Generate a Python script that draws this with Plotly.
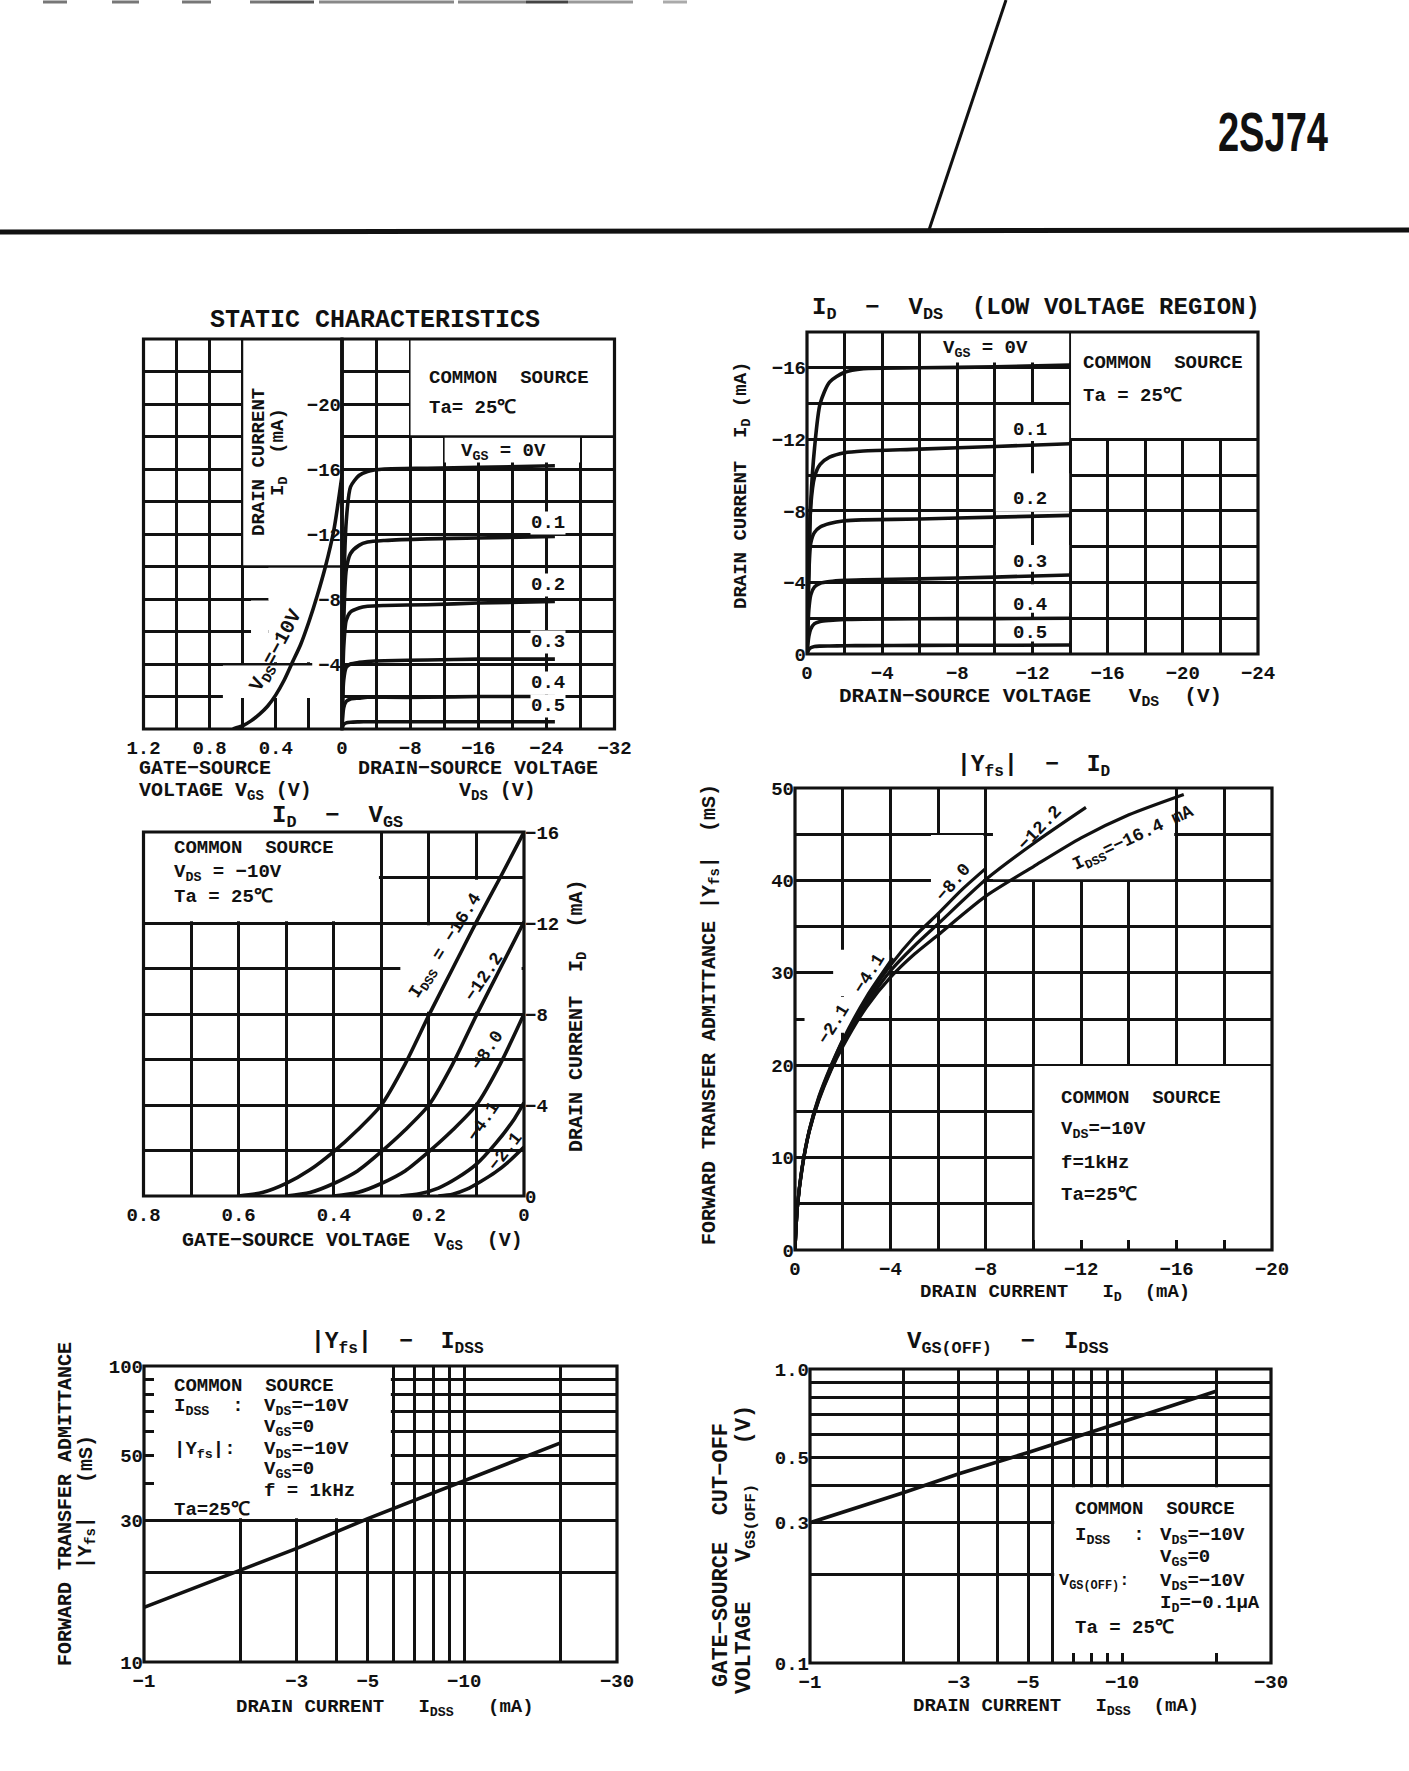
import math
import plotly.graph_objects as go

W, H = 1409, 1771
INK = "#111111"
FONT = "Liberation Mono, Courier New, DejaVu Sans Mono, monospace"

# ================= DATA =================
# --- STATIC CHARACTERISTICS: transfer curve (VDS = -10 V) ---
static_vgs = [0.66, 0.6, 0.55, 0.5, 0.45, 0.4, 0.35, 0.3, 0.25, 0.2, 0.15, 0.1, 0.05, 0.0]
static_id_transfer = [0, -0.2, -0.5, -0.9, -1.4, -2.1, -3.0, -4.1, -5.2, -6.6, -8.2, -10.0, -12.2, -15.6]
# --- STATIC CHARACTERISTICS: output curves ---
static_vds = [0, -0.2, -0.5, -1, -2, -3, -5, -10, -16, -25]
static_id_vgs0 = [0, -8.5, -12.8, -14.9, -15.6, -15.85, -16.0, -16.05, -16.1, -16.2]
static_id_vgs01 = [0, -6.5, -9.8, -10.8, -11.3, -11.5, -11.6, -11.7, -11.75, -11.85]
static_id_vgs02 = [0, -5.0, -6.7, -7.2, -7.45, -7.55, -7.6, -7.65, -7.75, -7.85]
static_id_vgs03 = [0, -3.0, -3.8, -4.0, -4.1, -4.15, -4.2, -4.25, -4.3, -4.3]
static_id_vgs04 = [0, -1.3, -1.7, -1.85, -1.9, -1.95, -1.95, -1.95, -2.0, -2.0]
static_id_vgs05 = [0, -0.28, -0.38, -0.42, -0.44, -0.45, -0.45, -0.45, -0.45, -0.45]
static_vgs_labels = ["0.1", "0.2", "0.3", "0.4", "0.5"]

# --- ID - VDS (LOW VOLTAGE REGION) ---
low_vds = [0, -0.1, -0.2, -0.4, -0.7, -1.2, -2, -3, -6, -10, -14]
low_id_vgs0 = [0, -5.0, -8.5, -11.5, -14.0, -15.2, -15.75, -15.95, -16.0, -16.05, -16.15]
low_id_vgs01 = [0, -5.5, -8.3, -9.9, -10.6, -11.0, -11.25, -11.35, -11.45, -11.6, -11.75]
low_id_vgs02 = [0, -4.5, -6.2, -6.8, -7.1, -7.3, -7.45, -7.5, -7.55, -7.65, -7.75]
low_id_vgs03 = [0, -2.5, -3.3, -3.75, -3.95, -4.05, -4.12, -4.15, -4.2, -4.3, -4.42]
low_id_vgs04 = [0, -1.0, -1.4, -1.7, -1.82, -1.88, -1.93, -1.95, -1.97, -1.98, -2.0]
low_id_vgs05 = [0, -0.25, -0.35, -0.42, -0.44, -0.45, -0.46, -0.47, -0.48, -0.49, -0.5]

# --- ID - VGS (VDS = -10 V) per IDSS ---
idvgs_vgs_164 = [0.6, 0.55, 0.5, 0.45, 0.4, 0.35, 0.3, 0.25, 0.2, 0.15, 0.1, 0.05, 0.0]
idvgs_id_164 = [0, -0.15, -0.55, -1.15, -1.95, -2.9, -4.0, -5.8, -7.95, -10.0, -12.05, -14.0, -16.0]
idvgs_vgs_122 = [0.5, 0.45, 0.4, 0.35, 0.3, 0.25, 0.2, 0.15, 0.1, 0.05, 0.0]
idvgs_id_122 = [0, -0.15, -0.55, -1.1, -1.95, -2.9, -4.0, -5.8, -7.95, -10.0, -12.05]
idvgs_vgs_80 = [0.4, 0.35, 0.3, 0.25, 0.2, 0.15, 0.1, 0.05, 0.0]
idvgs_id_80 = [0, -0.15, -0.55, -1.1, -1.95, -2.9, -4.0, -5.8, -8.0]
idvgs_vgs_41 = [0.26, 0.22, 0.18, 0.14, 0.1, 0.06, 0.02, 0.0]
idvgs_id_41 = [0, -0.1, -0.35, -0.8, -1.4, -2.3, -3.4, -4.1]
idvgs_vgs_21 = [0.18, 0.15, 0.12, 0.09, 0.06, 0.03, 0.0]
idvgs_id_21 = [0, -0.08, -0.3, -0.65, -1.05, -1.55, -2.15]

# --- |Yfs| - ID per IDSS ---
yfsid_id_164 = [0, -0.1, -0.3, -0.6, -1, -1.5, -2, -3, -4, -5, -6, -8, -10, -12, -14, -16.3]
yfsid_y_164 = [0, 4.6, 8.8, 12.8, 16.2, 19.4, 22.0, 26.3, 29.5, 32.0, 34.1, 38.3, 41.5, 44.6, 47.1, 49.3]
yfsid_id_122 = [0, -0.1, -0.3, -0.6, -1, -1.5, -2, -3, -4, -5, -6, -8, -10, -12.2]
yfsid_y_122 = [0, 4.6, 8.9, 12.9, 16.3, 19.5, 22.2, 26.6, 30.2, 32.9, 35.3, 40.1, 44.0, 47.9]
yfsid_id_80 = [0, -0.1, -0.3, -0.6, -1, -1.5, -2, -3, -4, -5, -6, -7, -8.0]
yfsid_y_80 = [0, 4.6, 8.9, 12.9, 16.4, 19.6, 22.4, 27.0, 30.8, 33.9, 36.4, 39.0, 41.3]
yfsid_id_41 = [0, -0.1, -0.3, -0.6, -1, -1.5, -2, -3, -4.1]
yfsid_y_41 = [0, 4.6, 9.0, 13.0, 16.5, 19.8, 22.7, 27.4, 31.6]
yfsid_id_21 = [0, -0.1, -0.3, -0.6, -1, -1.5, -2.1]
yfsid_y_21 = [0, 4.6, 9.0, 13.0, 16.6, 19.9, 23.3]

# --- |Yfs| - IDSS ---
yfsidss_idss = [1, 2, 3, 5, 10, 20]
yfsidss_yfs = [15.3, 20.5, 24.2, 30.5, 41.0, 55.0]

# --- VGS(OFF) - IDSS ---
voff_idss = [1, 2, 3, 5, 10, 20]
voff_v = [0.30, 0.38, 0.44, 0.52, 0.66, 0.84]

# ================= HELPERS =================
def fx(px):
    return px / W


def fy(py):
    return 1 - py / H


def fnt(size, weight="bold"):
    return dict(family=FONT, size=size, color=INK, weight=weight)


def ax(**kw):
    d = dict(showgrid=True, gridcolor=INK, gridwidth=2.5, zeroline=False, showline=False,
             ticks="", tickfont=fnt(19), fixedrange=True, layer="above traces",
             automargin=False)
    d.update(kw)
    return d


def labels(vals, shown, fmt):
    return [fmt(v) if v in shown else "" for v in vals]


def neg(v):
    return "0" if v == 0 else "\u2212" + ("%g" % abs(v))


fig = go.Figure()


def curve(x, y, xa, ya, width=3.6, shape="spline"):
    ln = dict(color=INK, width=width, shape=shape)
    if shape == "spline":
        ln["smoothing"] = 0.7
    fig.add_trace(go.Scatter(x=x, y=y, xaxis=xa, yaxis=ya, mode="lines", line=ln,
                             showlegend=False, hoverinfo="skip"))


shapes = []
annotations = []


def frame(x0, x1, y0, y1, w=3.2):
    shapes.append(dict(type="rect", xref="paper", yref="paper", x0=fx(x0), x1=fx(x1),
                       y0=fy(y1), y1=fy(y0), line=dict(color=INK, width=w), layer="above"))


def mask(xr, yr, x0, x1, y0, y1):
    shapes.append(dict(type="rect", xref=xr, yref=yr, x0=x0, x1=x1, y0=y0, y1=y1,
                       fillcolor="white", line=dict(width=0), layer="between"))


def ann(text, x, y, size=19, xanchor="center", angle=0, bg=None, pad=1, weight="bold"):
    a = dict(text=text, x=fx(x), y=fy(y), xref="paper", yref="paper", showarrow=False,
             xanchor=xanchor, yanchor="middle", textangle=angle, font=fnt(size, weight),
             borderpad=pad)
    if bg:
        a["bgcolor"] = bg
    annotations.append(a)


XSTAND = 5

# ================= CHART 1: STATIC CHARACTERISTICS =================
C1L, C1M, C1R, C1T, C1B = 143.5, 342, 614.5, 339, 729
curve(static_vgs, static_id_transfer, "x", "y")
for ids in [static_id_vgs0, static_id_vgs01, static_id_vgs02, static_id_vgs03,
            static_id_vgs04, static_id_vgs05]:
    curve(static_vds, ids, "x2", "y")

c1_xl = [1.2, 1.0, 0.8, 0.6, 0.4, 0.2, 0.0]
c1_xr = [0, -4, -8, -12, -16, -20, -24, -28, -32]
c1_y = [0, -2, -4, -6, -8, -10, -12, -14, -16, -18, -20, -22, -24]
layout_axes = {}
layout_axes["xaxis"] = ax(domain=[fx(C1L), fx(C1M)], range=[1.2, 0], anchor="y", ticklabelstandoff=XSTAND,
                          tickvals=c1_xl, ticktext=labels(c1_xl, [1.2, 0.8, 0.4, 0.0], lambda v: "%g" % v))
layout_axes["xaxis2"] = ax(domain=[fx(C1M), fx(C1R)], range=[0, -32], anchor="y", ticklabelstandoff=XSTAND,
                           tickvals=c1_xr, ticktext=labels(c1_xr, [-8, -16, -24, -32], neg))
layout_axes["yaxis"] = ax(domain=[fy(C1B), fy(C1T)], range=[0, -24], anchor="x2", side="left",
                          tickvals=c1_y, ticktext=labels(c1_y, [-4, -8, -12, -16, -20], neg))
frame(C1L, C1M, C1T, C1B)
frame(C1M, C1R, C1T, C1B)
shapes.append(dict(type="line", xref="paper", yref="paper", x0=fx(C1M), x1=fx(C1M),
                   y0=fy(C1B), y1=fy(C1T), line=dict(color=INK, width=3.5), layer="above"))
mask("x", "y", 0.597, -0.01, -10.08, -24.5)
mask("x", "y", 0.445, -0.01, -4.1, -9.92)
mask("x", "y", 0.55, 0.445, -4.1, -7.9)
mask("x", "y", 0.72, -0.01, -1.9, -3.9)
mask("x", "y", 0.18, -0.01, -3.85, -4.15)
mask("x2", "y", -8.05, -32.5, -18.08, -24.5)
mask("x2", "y", -12.05, -27.95, -16.4, -17.92)

ann("STATIC CHARACTERISTICS", 375, 321, size=25)
ann("COMMON  SOURCE", 427, 378, xanchor="left")
ann("Ta= 25\u2103", 427, 408, xanchor="left")
ann("V<sub>GS</sub> = 0V", 503, 452)
for lab, yy in zip(static_vgs_labels, [523, 585, 642, 683, 706]):
    ann(lab, 548, yy, bg="white", pad=0)
ann("V<sub>DS</sub>=\u221210V", 276, 651, size=20, angle=-62)
ann("DRAIN CURRENT", 259, 462, size=19, angle=-90)
ann("I<sub>D</sub>  (mA)", 279, 452, size=19, angle=-90)
ann("GATE\u2212SOURCE", 137, 768, size=20, xanchor="left")
ann("VOLTAGE V<sub>GS</sub> (V)", 137, 791, size=20, xanchor="left")
ann("DRAIN\u2212SOURCE VOLTAGE", 478, 768, size=20)
ann("V<sub>DS</sub> (V)", 497, 791, size=20)

# ================= CHART 2: ID - VDS LOW VOLTAGE =================
C2L, C2R, C2T, C2B = 807, 1258, 332, 654
for ids in [low_id_vgs0, low_id_vgs01, low_id_vgs02, low_id_vgs03, low_id_vgs04, low_id_vgs05]:
    curve(low_vds, ids, "x3", "y2")
c2_x = list(range(0, -26, -2))
c2_y = list(range(0, -20, -2))
layout_axes["xaxis3"] = ax(domain=[fx(C2L), fx(C2R)], range=[0, -24], anchor="y2", ticklabelstandoff=XSTAND,
                           tickvals=c2_x, ticktext=labels(c2_x, [0, -4, -8, -12, -16, -20, -24], neg))
layout_axes["yaxis2"] = ax(domain=[fy(C2B), fy(C2T)], range=[0, -18], anchor="x3",
                           tickvals=c2_y, ticktext=labels(c2_y, [0, -4, -8, -12, -16], neg))
frame(C2L, C2R, C2T, C2B)
mask("x3", "y2", -14.05, -24.5, -12.08, -18.5)
mask("x3", "y2", -6.1, -13.95, -16.3, -18.5)
mask("x3", "y2", -10.05, -13.95, -11.9, -13.92)
mask("x3", "y2", -10.05, -13.95, -7.95, -10.1)
mask("x3", "y2", -10.05, -13.95, -4.6, -6.1)
mask("x3", "y2", -10.05, -13.95, -2.3, -3.9)
mask("x3", "y2", -10.05, -13.95, -0.7, -1.9)

ann("I<sub>D</sub>  \u2212  V<sub>DS</sub>  (LOW VOLTAGE REGION)", 1036, 309, size=24)
ann("COMMON  SOURCE", 1081, 363, xanchor="left")
ann("Ta = 25\u2103", 1081, 396, xanchor="left")
ann("V<sub>GS</sub> = 0V", 985, 349)
for lab, yy in zip(static_vgs_labels, [430, 499, 562, 605, 633]):
    ann(lab, 1030, yy)
ann("DRAIN CURRENT  I<sub>D</sub> (mA)", 742, 485, size=19, angle=-90)
ann("DRAIN\u2212SOURCE VOLTAGE   V<sub>DS</sub>  (V)", 1030, 697, size=21)

# ================= CHART 3: ID - VGS =================
C3L, C3R, C3T, C3B = 143.5, 524, 832, 1196
for xs, ys in [(idvgs_vgs_164, idvgs_id_164), (idvgs_vgs_122, idvgs_id_122),
               (idvgs_vgs_80, idvgs_id_80), (idvgs_vgs_41, idvgs_id_41),
               (idvgs_vgs_21, idvgs_id_21)]:
    curve(xs, ys, "x4", "y3")
c3_x = [0.8, 0.7, 0.6, 0.5, 0.4, 0.3, 0.2, 0.1, 0.0]
c3_y = list(range(0, -18, -2))
layout_axes["xaxis4"] = ax(domain=[fx(C3L), fx(C3R)], range=[0.8, 0], anchor="y3", ticklabelstandoff=XSTAND,
                           tickvals=c3_x, ticktext=labels(c3_x, [0.8, 0.6, 0.4, 0.2, 0.0], lambda v: "%g" % v))
layout_axes["yaxis3"] = ax(domain=[fy(C3B), fy(C3T)], range=[0, -16], anchor="x4", side="right",
                           tickvals=c3_y, ticktext=labels(c3_y, [0, -4, -8, -12, -16], neg))
frame(C3L, C3R, C3T, C3B)
mask("x4", "y3", 0.805, 0.305, -12.08, -16.5)
mask("x4", "y3", 0.26, 0.005, -8.1, -11.9)
mask("x4", "y3", 0.195, 0.005, -12.1, -13.9)
mask("x4", "y3", 0.15, 0.005, -4.1, -5.9)
mask("x4", "y3", 0.15, 0.005, -6.1, -7.9)

ann("I<sub>D</sub>  \u2212  V<sub>GS</sub>", 337, 817, size=24)
ann("COMMON  SOURCE", 172, 848, xanchor="left")
ann("V<sub>DS</sub> = \u221210V", 172, 873, xanchor="left")
ann("Ta = 25\u2103", 172, 897, xanchor="left")
ann("I<sub>DSS</sub> = \u221216.4", 446, 946, size=18, angle=-58)
ann("\u221212.2", 484, 977, size=18, angle=-56)
ann("\u22128.0", 487, 1051, size=18, angle=-56)
ann("\u22124.1", 483, 1122, size=18, angle=-56)
ann("\u22122.1", 505, 1152, size=18, angle=-52)
ann("DRAIN CURRENT  I<sub>D</sub>  (mA)", 577, 1016, size=20, angle=-90)
ann("GATE\u2212SOURCE VOLTAGE  V<sub>GS</sub>  (V)", 352, 1241, size=20)

# ================= CHART 4: |Yfs| - ID =================
C4L, C4R, C4T, C4B = 795, 1272, 788, 1250
for xs, ys in [(yfsid_id_164, yfsid_y_164), (yfsid_id_122, yfsid_y_122),
               (yfsid_id_80, yfsid_y_80), (yfsid_id_41, yfsid_y_41), (yfsid_id_21, yfsid_y_21)]:
    curve(xs, ys, "x5", "y4", width=3.2)
c4_x = list(range(0, -22, -2))
c4_y = list(range(0, 55, 5))
layout_axes["xaxis5"] = ax(domain=[fx(C4L), fx(C4R)], range=[0, -20], anchor="y4", ticklabelstandoff=XSTAND,
                           tickvals=c4_x, ticktext=labels(c4_x, [0, -4, -8, -12, -16, -20], neg),
                           ticks="inside", ticklen=10, tickwidth=2.5, tickcolor=INK)
layout_axes["yaxis4"] = ax(domain=[fy(C4B), fy(C4T)], range=[0, 50], anchor="x5",
                           tickvals=c4_y, ticktext=labels(c4_y, [0, 10, 20, 30, 40, 50], lambda v: "%g" % v))
frame(C4L, C4R, C4T, C4B)
mask("x5", "y4", -10.05, -20.5, -1, 19.92)
mask("x5", "y4", -8.3, -15.9, 40.12, 51)
mask("x5", "y4", -5.7, -7.9, 36.5, 44.9)
mask("x5", "y4", -1.6, -3.95, 27.5, 32.5)
mask("x5", "y4", -0.4, -2.5, 23.5, 27.4)

ann("|Y<sub>fs</sub>|  \u2212  I<sub>D</sub>", 1034, 766, size=23)
ann("COMMON  SOURCE", 1059, 1098, xanchor="left")
ann("V<sub>DS</sub>=\u221210V", 1059, 1130, xanchor="left")
ann("f=1kHz", 1059, 1163, xanchor="left")
ann("Ta=25\u2103", 1059, 1195, xanchor="left")
ann("\u22122.1", 834, 1024, size=18, angle=-58)
ann("\u22124.1", 869, 974, size=18, angle=-58)
ann("\u22128.0", 953, 883, size=18, angle=-50)
ann("\u221212.2", 1040, 828, size=18, angle=-46)
ann("I<sub>DSS</sub>=\u221216.4 mA", 1133, 839, size=18, angle=-25)
ann("FORWARD TRANSFER ADMITTANCE |Y<sub>fs</sub>|  (mS)", 710, 1014, size=20, angle=-90)
ann("DRAIN CURRENT   I<sub>D</sub>  (mA)", 1055, 1293, size=19)

# ================= CHART 5: |Yfs| - IDSS =================
C5L, C5R, C5T, C5B = 144, 617, 1366, 1662
curve(yfsidss_idss, yfsidss_yfs, "x6", "y5", width=3.6, shape="linear")
c5_x = [1, 2, 3, 4, 5, 6, 7, 8, 9, 10, 20, 30]
c5_y = [10, 20, 30, 40, 50, 60, 70, 80, 90, 100]
layout_axes["xaxis6"] = ax(domain=[fx(C5L), fx(C5R)], type="log", range=[0, math.log10(30)], anchor="y5",
                           ticklabelstandoff=XSTAND,
                           tickvals=c5_x, ticktext=labels(c5_x, [1, 3, 5, 10, 30], neg))
layout_axes["yaxis5"] = ax(domain=[fy(C5B), fy(C5T)], type="log", range=[1, 2], anchor="x6",
                           tickvals=c5_y, ticktext=labels(c5_y, [10, 30, 50, 100], lambda v: "%g" % v),
                           ticks="inside", ticklen=10, tickwidth=2.5, tickcolor=INK)
frame(C5L, C5R, C5T, C5B)
mask("x6", "y5", 1.0, 5.9, 30.6, 101)

ann("|Y<sub>fs</sub>|  \u2212  I<sub>DSS</sub>", 397, 1343, size=23)
ann("COMMON  SOURCE", 172, 1386, xanchor="left")
ann("I<sub>DSS</sub>  :", 172, 1407, xanchor="left")
ann("V<sub>DS</sub>=\u221210V", 262, 1407, xanchor="left")
ann("V<sub>GS</sub>=0", 262, 1428, xanchor="left")
ann("|Y<sub>fs</sub>|:", 172, 1450, xanchor="left")
ann("V<sub>DS</sub>=\u221210V", 262, 1450, xanchor="left")
ann("V<sub>GS</sub>=0", 262, 1470, xanchor="left")
ann("f = 1kHz", 262, 1491, xanchor="left")
ann("Ta=25\u2103", 172, 1510, xanchor="left")
ann("FORWARD TRANSFER ADMITTANCE", 65, 1504, size=20, angle=-90)
ann("|Y<sub>fs</sub>|", 86, 1543, size=20, angle=-90)
ann("(mS)", 86, 1459, size=20, angle=-90)
ann("DRAIN CURRENT   I<sub>DSS</sub>   (mA)", 385, 1708, size=19)

# ================= CHART 6: VGS(OFF) - IDSS =================
C6L, C6R, C6T, C6B = 810, 1271, 1369, 1663
curve(voff_idss, voff_v, "x7", "y6", width=3.6, shape="linear")
c6_x = [1, 2, 3, 4, 5, 6, 7, 8, 9, 10, 20, 30]
c6_y = [0.1, 0.2, 0.3, 0.4, 0.5, 0.6, 0.7, 0.8, 0.9, 1.0]
layout_axes["xaxis7"] = ax(domain=[fx(C6L), fx(C6R)], type="log", range=[0, math.log10(30)], anchor="y6",
                           ticklabelstandoff=XSTAND,
                           tickvals=c6_x, ticktext=labels(c6_x, [1, 3, 5, 10, 30], neg),
                           ticks="inside", ticklen=10, tickwidth=2.5, tickcolor=INK)
layout_axes["yaxis6"] = ax(domain=[fy(C6B), fy(C6T)], type="log", range=[-1, 0], anchor="x7",
                           tickvals=c6_y, ticktext=labels(c6_y, [0.1, 0.3, 0.5, 1.0], lambda v: "%.1f" % v))
frame(C6L, C6R, C6T, C6B)
mask("x7", "y6", 6.06, 31, 0.09, 0.396)

ann("V<sub>GS(OFF)</sub>  \u2212  I<sub>DSS</sub>", 1008, 1343, size=24)
ann("COMMON  SOURCE", 1073, 1509, xanchor="left")
ann("I<sub>DSS</sub>  :", 1073, 1536, xanchor="left")
ann("V<sub>DS</sub>=\u221210V", 1158, 1536, xanchor="left")
ann("V<sub>GS</sub>=0", 1158, 1558, xanchor="left")
ann("V<sub>GS(OFF)</sub>:", 1057, 1582, xanchor="left", size=17)
ann("V<sub>DS</sub>=\u221210V", 1158, 1582, xanchor="left")
ann("I<sub>D</sub>=\u22120.1\u03bcA", 1158, 1604, xanchor="left")
ann("Ta = 25\u2103", 1073, 1628, xanchor="left")
ann("GATE\u2212SOURCE  CUT\u2212OFF", 721, 1555, size=22, angle=-90)
ann("VOLTAGE   V<sub>GS(OFF)</sub>   (V)", 746, 1550, size=22, angle=-90)
ann("DRAIN CURRENT   I<sub>DSS</sub>  (mA)", 1056, 1707, size=19)

# ================= HEADER =================
shapes.append(dict(type="line", xref="paper", yref="paper", x0=0, x1=1, y0=fy(232), y1=fy(230),
                   line=dict(color=INK, width=5), layer="above"))
shapes.append(dict(type="line", xref="paper", yref="paper", x0=fx(1006), x1=fx(929), y0=fy(0), y1=fy(230),
                   line=dict(color=INK, width=3), layer="above"))
for a, b, col in [(43, 67, "#777"), (112, 139, "#777"), (182, 211, "#777"), (250, 270, "#777"),
                  (270, 314, "#555"), (319, 454, "#888"), (458, 526, "#888"), (526, 568, "#444"),
                  (568, 633, "#999"), (663, 687, "#aaa")]:
    shapes.append(dict(type="line", xref="paper", yref="paper", x0=fx(a), x1=fx(b), y0=fy(2), y1=fy(2),
                       line=dict(color=col, width=3), layer="above"))
annotations.append(dict(text="<b>2SJ74</b>", x=fx(1273), y=fy(131), xref="paper", yref="paper",
                        showarrow=False, xanchor="center", yanchor="middle",
                        font=dict(family="Liberation Sans, Arial, sans-serif", size=56, color=INK)))

fig.update_layout(
    width=W, height=H, margin=dict(l=0, r=0, t=0, b=0, pad=0, autoexpand=False),
    paper_bgcolor="white", plot_bgcolor="white", showlegend=False,
    shapes=shapes, annotations=annotations, **layout_axes,
)

POST = (
    "document.body.style.margin='0';document.body.style.padding='0';"
    "var ts=document.querySelectorAll('text.annotation-text');"
    "for(var i=0;i<ts.length;i++){var t=ts[i];"
    "if(t.textContent==='2SJ74'){var b=t.getBBox();var cx=b.x+b.width/2,cy=b.y+b.height/2;"
    "var tr=t.getAttribute('transform')||'';"
    "t.setAttribute('transform',tr+' translate('+cx+' '+cy+') scale(0.68 1) translate('+(-cx)+' '+(-cy)+')');}}"
)
fig.write_html("out.html", config={"displayModeBar": False, "responsive": False}, post_script=POST)
